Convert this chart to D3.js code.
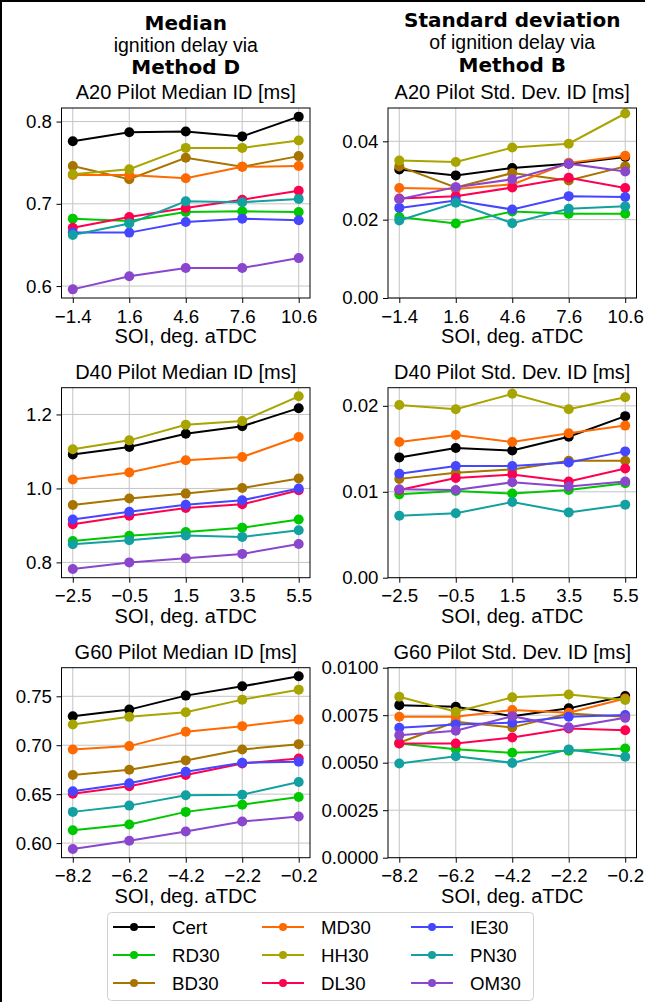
<!DOCTYPE html>
<html>
<head>
<meta charset="utf-8">
<script src="https://cdn.jsdelivr.net/npm/d3@7"></script>
<style>
body{margin:0;background:#fff;}
svg{display:block;font-family:"Liberation Sans",Arial,sans-serif;}
</style>
</head>
<body>
<div class="chart-container"></div>
<script>
// series, in legend order (column by column)
const seriesNames = ['Cert','RD30','BD30','MD30','HH30','DL30','IE30','PN30','OM30'];
const seriesColors = ['#000000','#00c800','#a87400','#ff6a00','#a8a400','#ff0050','#4646ff','#12a0a0','#8a46cc'];

// start of injection, deg. aTDC
const soiA20 = [-1.4, 1.6, 4.6, 7.6, 10.6];
const soiD40 = [-2.5, -0.5, 1.5, 3.5, 5.5];
const soiG60 = [-8.2, -6.2, -4.2, -2.2, -0.2];

// one row per series, same order as seriesNames
const a20Median = [
    [0.776, 0.787, 0.788, 0.782, 0.806],
    [0.682, 0.679, 0.690, 0.691, 0.690],
    [0.746, 0.730, 0.756, 0.745, 0.758],
    [0.735, 0.735, 0.731, 0.745, 0.746],
    [0.736, 0.742, 0.768, 0.768, 0.777],
    [0.671, 0.684, 0.695, 0.705, 0.716],
    [0.665, 0.665, 0.678, 0.682, 0.680],
    [0.662, 0.676, 0.703, 0.702, 0.706],
    [0.596, 0.612, 0.622, 0.622, 0.634]
];
const a20Std = [
    [0.0328, 0.0313, 0.0332, 0.0343, 0.0360],
    [0.0207, 0.0190, 0.0221, 0.0215, 0.0215],
    [0.0336, 0.0282, 0.0319, 0.0300, 0.0336],
    [0.0281, 0.0278, 0.0290, 0.0345, 0.0363],
    [0.0351, 0.0347, 0.0384, 0.0394, 0.0471],
    [0.0254, 0.0260, 0.0282, 0.0307, 0.0281],
    [0.0230, 0.0249, 0.0226, 0.0260, 0.0258],
    [0.0198, 0.0243, 0.0191, 0.0228, 0.0234],
    [0.0252, 0.0283, 0.0303, 0.0343, 0.0323]
];
const d40Median = [
    [1.092, 1.112, 1.148, 1.168, 1.217],
    [0.858, 0.872, 0.882, 0.894, 0.916],
    [0.955, 0.973, 0.986, 1.001, 1.027],
    [1.024, 1.043, 1.076, 1.085, 1.139],
    [1.106, 1.130, 1.172, 1.182, 1.249],
    [0.903, 0.926, 0.947, 0.957, 0.995],
    [0.916, 0.937, 0.956, 0.968, 1.000],
    [0.849, 0.860, 0.873, 0.869, 0.887],
    [0.782, 0.800, 0.811, 0.823, 0.850]
];
const d40Std = [
    [0.0140, 0.0151, 0.0148, 0.0164, 0.0188],
    [0.0097, 0.0101, 0.0098, 0.0102, 0.0110],
    [0.0115, 0.0122, 0.0126, 0.0136, 0.0136],
    [0.0158, 0.0166, 0.0158, 0.0168, 0.0177],
    [0.0201, 0.0196, 0.0214, 0.0196, 0.0210],
    [0.0102, 0.0116, 0.0120, 0.0112, 0.0127],
    [0.0121, 0.0130, 0.0130, 0.0134, 0.0147],
    [0.0072, 0.0075, 0.0088, 0.0076, 0.0085],
    [0.0103, 0.0102, 0.0111, 0.0106, 0.0112]
];
const g60Median = [
    [0.7296, 0.7364, 0.7507, 0.7602, 0.7704],
    [0.6132, 0.6190, 0.6319, 0.6393, 0.6471],
    [0.6696, 0.6750, 0.6845, 0.6957, 0.7011],
    [0.6957, 0.6991, 0.7137, 0.7195, 0.7262],
    [0.7211, 0.7290, 0.7337, 0.7466, 0.7568],
    [0.6505, 0.6580, 0.6696, 0.6814, 0.6865],
    [0.6529, 0.6611, 0.6729, 0.6821, 0.6831],
    [0.6319, 0.6383, 0.6488, 0.6495, 0.6624],
    [0.5939, 0.6024, 0.6118, 0.6220, 0.6271]
];
const g60Std = [
    [0.00803, 0.00794, 0.00745, 0.00786, 0.00851],
    [0.00601, 0.00571, 0.00552, 0.00563, 0.00575],
    [0.00605, 0.00715, 0.00686, 0.00759, 0.00742],
    [0.00742, 0.00742, 0.00777, 0.00763, 0.00838],
    [0.00847, 0.00768, 0.00844, 0.00859, 0.00830],
    [0.00601, 0.00601, 0.00633, 0.00680, 0.00671],
    [0.00684, 0.00701, 0.00710, 0.00742, 0.00751],
    [0.00496, 0.00534, 0.00499, 0.00570, 0.00531],
    [0.00645, 0.00668, 0.00745, 0.00686, 0.00736]
];

// y tick labels per panel
const yTicksA20Median = [0.6, 0.7, 0.8];
const yTicksA20Std = [0, 0.02, 0.04];
const yTicksD40Median = [0.8, 1.0, 1.2];
const yTicksD40Std = [0, 0.01, 0.02];
const yTicksG60Median = [0.60, 0.65, 0.70, 0.75];
const yTicksG60Std = [0, 0.0025, 0.005, 0.0075, 0.01];

const panels = [
    {title:'A20 Pilot Median ID [ms]', soi:soiA20, vals:a20Median, ticks:yTicksA20Median, fmt:'.1f', col:0, row:0},
    {title:'A20 Pilot Std. Dev. ID [ms]', soi:soiA20, vals:a20Std, ticks:yTicksA20Std, fmt:'.2f', col:1, row:0, yMin:0},
    {title:'D40 Pilot Median ID [ms]', soi:soiD40, vals:d40Median, ticks:yTicksD40Median, fmt:'.1f', col:0, row:1},
    {title:'D40 Pilot Std. Dev. ID [ms]', soi:soiD40, vals:d40Std, ticks:yTicksD40Std, fmt:'.2f', col:1, row:1, yMin:0},
    {title:'G60 Pilot Median ID [ms]', soi:soiG60, vals:g60Median, ticks:yTicksG60Median, fmt:'.2f', col:0, row:2},
    {title:'G60 Pilot Std. Dev. ID [ms]', soi:soiG60, vals:g60Std, ticks:yTicksG60Std, fmt:'.4f', col:1, row:2, yMin:0, yMax:0.01}
];

const svg_width = 645, svg_height = 1002;
const colLeft = [61.5, 388];
const rowTop = [108, 387.7, 667.7];
const plot_w = 248.5, plot_h = 190;
const tickFont = 18.67, titleFont = 20;

const svg = d3.select('.chart-container').append('svg')
    .attr('width', svg_width).attr('height', svg_height);

// outer frame
svg.append('rect').attr('x',1).attr('y',1).attr('width',svg_width+20).attr('height',svg_height+20)
    .attr('fill','none').attr('stroke','#000').attr('stroke-width',2);

// column headers
function header(cx, lines){
    lines.forEach(l => {
        svg.append('text').attr('x',cx).attr('y',l.y).attr('text-anchor','middle')
            .style('font-size', l.size+'px')
            .style('font-family', l.bold ? '"DejaVu Sans",sans-serif' : null)
            .style('font-weight', l.bold ? 'bold' : 'normal')
            .text(l.t);
    });
}
header(colLeft[0]+plot_w/2, [
    {t:'Median', y:30, size:20, bold:true},
    {t:'ignition delay via', y:52, size:19.5},
    {t:'Method D', y:74, size:20, bold:true}
]);
header(colLeft[1]+plot_w/2, [
    {t:'Standard deviation', y:27, size:20, bold:true},
    {t:'of ignition delay via', y:49, size:19.5},
    {t:'Method B', y:72, size:20, bold:true}
]);

function drawPanel(p){
    const g = svg.append('g')
        .attr('transform', `translate(${colLeft[p.col]},${rowTop[p.row]})`);

    // x: matplotlib style 5% margins
    const xExt = d3.extent(p.soi);
    const xPad = (xExt[1]-xExt[0])*0.05;
    const xScale = d3.scaleLinear().domain([xExt[0]-xPad, xExt[1]+xPad]).range([0, plot_w]);

    const all = p.vals.flat();
    const yExt = d3.extent(all);
    const yPad = (yExt[1]-yExt[0])*0.05;
    const y0 = p.yMin !== undefined ? p.yMin : yExt[0]-yPad;
    const y1 = p.yMax !== undefined ? p.yMax : yExt[1]+yPad;
    const yScale = d3.scaleLinear().domain([y0, y1]).range([plot_h, 0]);

    // grid
    g.append('g').selectAll('line').data(p.soi).join('line')
        .attr('x1', d=>xScale(d)).attr('x2', d=>xScale(d))
        .attr('y1', 0).attr('y2', plot_h)
        .attr('stroke', '#c4c4c4').attr('stroke-width', 1);
    g.append('g').selectAll('line').data(p.ticks).join('line')
        .attr('x1', 0).attr('x2', plot_w)
        .attr('y1', d=>yScale(d)).attr('y2', d=>yScale(d))
        .attr('stroke', '#c4c4c4').attr('stroke-width', 1);

    // series
    const clip = 'clip' + p.col + p.row;
    g.append('clipPath').attr('id', clip).append('rect')
        .attr('x', -8).attr('y', -8).attr('width', plot_w+16).attr('height', plot_h+16);
    const line = d3.line().x((d,i)=>xScale(p.soi[i])).y(d=>yScale(d));
    p.vals.forEach((vals, si) => {
        const sg = g.append('g').attr('clip-path', `url(#${clip})`);
        sg.append('path').datum(vals).attr('d', line)
            .attr('fill','none').attr('stroke', seriesColors[si]).attr('stroke-width', 2);
        sg.selectAll('circle').data(vals).join('circle')
            .attr('cx', (d,i)=>xScale(p.soi[i])).attr('cy', d=>yScale(d))
            .attr('r', 5).attr('fill', seriesColors[si]);
    });

    // frame
    g.append('rect').attr('width', plot_w).attr('height', plot_h)
        .attr('fill','none').attr('stroke','#000').attr('stroke-width',1);

    // axes
    const xAxis = d3.axisBottom(xScale).tickValues(p.soi)
        .tickFormat(d3.format('.1f')).tickSizeInner(5).tickSizeOuter(0).tickPadding(6.5);
    const xg = g.append('g').attr('transform', `translate(0,${plot_h})`).call(xAxis);
    const yAxis = d3.axisLeft(yScale).tickValues(p.ticks)
        .tickFormat(d3.format(p.fmt)).tickSizeInner(5).tickSizeOuter(0).tickPadding(4.5);
    const yg = g.append('g').call(yAxis);
    [xg, yg].forEach(a => {
        a.select('.domain').remove();
        a.selectAll('text').style('font-size', tickFont+'px').style('font-family','"Liberation Sans",Arial,sans-serif').attr('fill','#000');
        a.selectAll('line').attr('stroke','#000');
    });

    // title and x label
    g.append('text').attr('x', plot_w/2).attr('y', -9).attr('text-anchor','middle')
        .style('font-size', titleFont+'px').text(p.title);
    g.append('text').attr('x', plot_w/2).attr('y', plot_h+45).attr('text-anchor','middle')
        .style('font-size', titleFont+'px').text('SOI, deg. aTDC');
}

panels.forEach(drawPanel);

// legend, 3 columns of 3
const legend = svg.append('g').attr('transform','translate(107,912)');
legend.append('rect').attr('x',0.5).attr('y',0.5).attr('width',426).attr('height',88)
    .attr('rx',4).attr('fill','#fff').attr('stroke','#d0d0d0').attr('stroke-width',1);
seriesNames.forEach((name, i) => {
    const c = Math.floor(i/3), r = i%3;
    const lg = legend.append('g').attr('transform', `translate(${6+c*149},${15+r*28})`);
    lg.append('line').attr('x1',0).attr('x2',42).attr('stroke',seriesColors[i]).attr('stroke-width',2);
    lg.append('circle').attr('cx',21).attr('r',4).attr('fill',seriesColors[i]);
    lg.append('text').attr('x',59).attr('dy','0.35em').style('font-size',tickFont+'px').text(name);
});
</script>
</body>
</html>
